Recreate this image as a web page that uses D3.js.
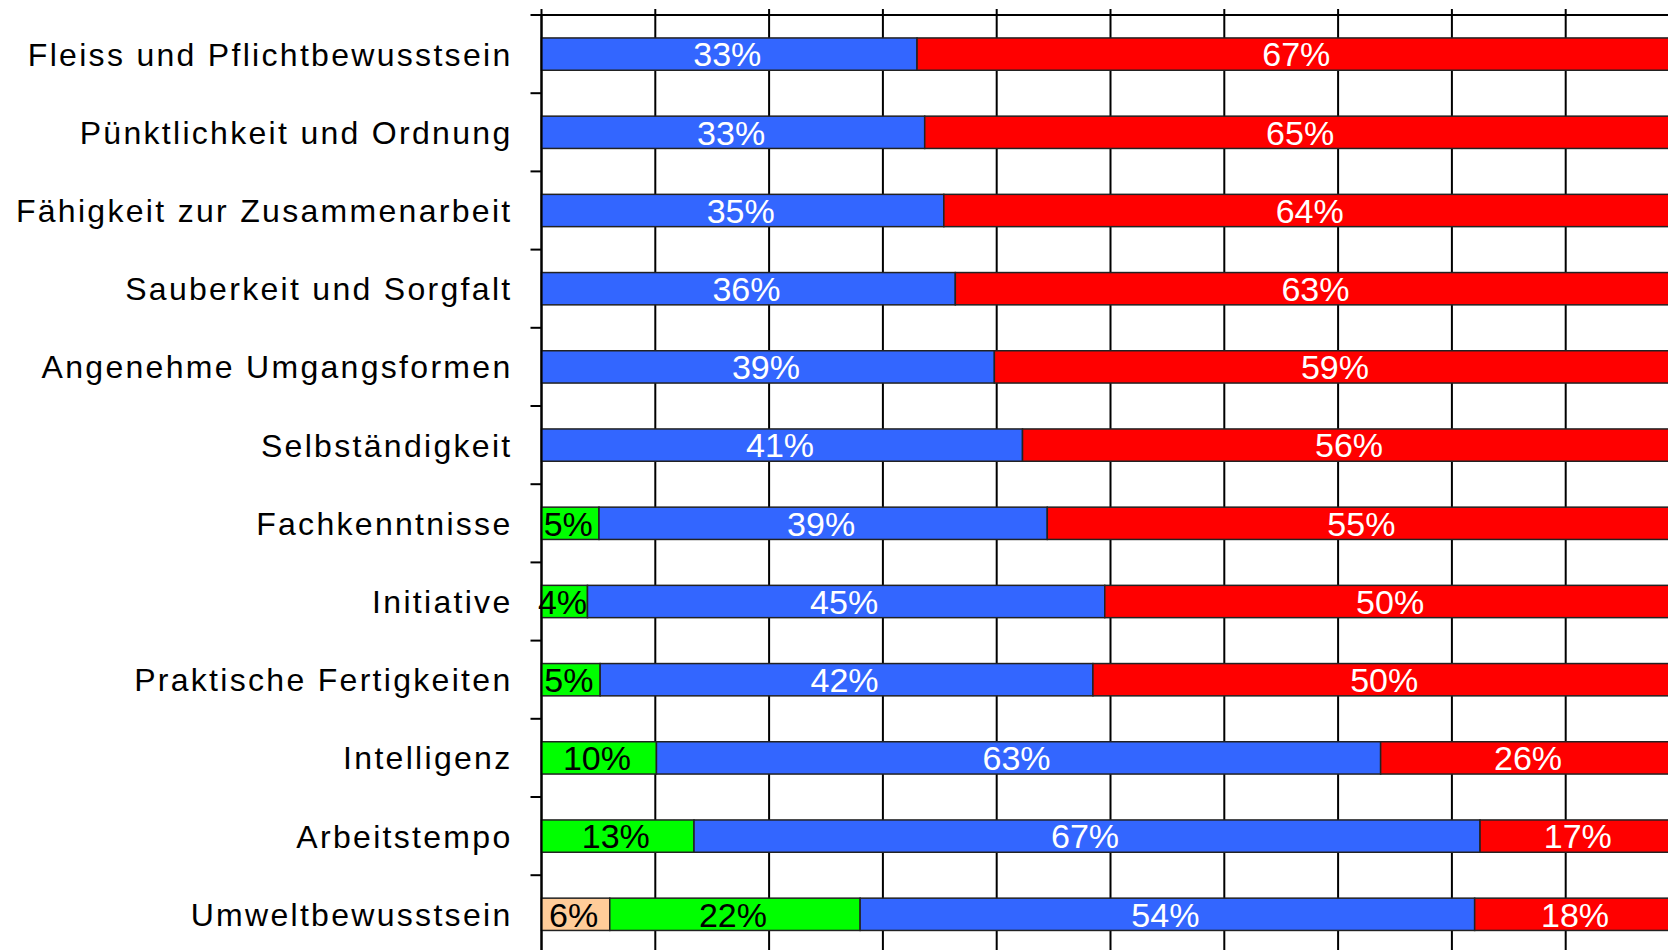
<!DOCTYPE html>
<html>
<head>
<meta charset="utf-8">
<script src="https://cdn.jsdelivr.net/npm/d3@7"></script>
<style>
  body { margin: 0; background: #fff; }
  svg { display: block; }
  .cat { font-family: "Liberation Sans", Arial, sans-serif; font-size: 32px; fill: #000; letter-spacing: 2.3px; }
  .val { font-family: "Liberation Sans", Arial, sans-serif; font-size: 34px; }
</style>
</head>
<body>
<div id="chart"></div>
<script>
var categories = ["Fleiss und Pflichtbewusstsein", "Pünktlichkeit und Ordnung", "Fähigkeit zur Zusammenarbeit",
  "Sauberkeit und Sorgfalt", "Angenehme Umgangsformen", "Selbständigkeit", "Fachkenntnisse", "Initiative",
  "Praktische Fertigkeiten", "Intelligenz", "Arbeitstempo", "Umweltbewusstsein"];

var seriesKeys = ["s1", "s2", "s3", "s4"];
var s1 = [0, 0, 0, 0, 0, 0, 0, 0, 0, 0, 0, 6];
var s2 = [0, 0, 0, 0, 0, 0, 5, 4, 5, 10, 13, 22];
var s3 = [33, 33, 35, 36, 39, 41, 39, 45, 42, 63, 67, 54];
var s4 = [67, 65, 64, 63, 59, 56, 55, 50, 50, 26, 17, 18];

var gridTicks = [0, 0.1, 0.2, 0.3, 0.4, 0.5, 0.6, 0.7, 0.8, 0.9, 1];

var fills = {s1: "#FFCC99", s2: "#00FF00", s3: "#3366FF", s4: "#FF0000"};
var textFills = {s1: "#000", s2: "#000", s3: "#fff", s4: "#fff"};

var width = 1668, height = 950;
var margin = {top: 15, left: 541.5};

var rows = categories.map(function(c, i) {
  return {cat: c, s1: s1[i], s2: s2[i], s3: s3[i], s4: s4[i]};
});

// every row is scaled to 100%
var stack = d3.stack().keys(seriesKeys).offset(d3.stackOffsetExpand);
var layers = stack(rows);

var x = d3.scaleLinear().domain([0, 1]).range([margin.left, margin.left + 1138]);
var y = d3.scaleBand().domain(categories).range([margin.top, margin.top + 78.2 * categories.length])
    .paddingInner(0.587).paddingOuter(0.587 / 2);

var svg = d3.select("#chart").append("svg")
    .attr("width", width)
    .attr("height", height);

// vertical gridlines
svg.append("g")
  .selectAll("line")
  .data(gridTicks)
  .enter().append("line")
    .attr("x1", function(d) { return x(d); })
    .attr("x2", function(d) { return x(d); })
    .attr("y1", margin.top - 6)
    .attr("y2", height)
    .style("stroke", "#000")
    .style("stroke-width", 2);

// top axis line
svg.append("line")
    .attr("x1", margin.left - 11).attr("x2", width)
    .attr("y1", margin.top).attr("y2", margin.top)
    .style("stroke", "#000").style("stroke-width", 2);

// left ticks between categories
var bounds = d3.range(1, categories.length).map(function(i) { return margin.top + y.step() * i; });
svg.append("g")
  .selectAll("line")
  .data(bounds)
  .enter().append("line")
    .attr("x1", margin.left - 11).attr("x2", margin.left)
    .attr("y1", function(d) { return d; })
    .attr("y2", function(d) { return d; })
    .style("stroke", "#000").style("stroke-width", 2);

// bars
var layer = svg.append("g")
  .selectAll("g")
  .data(layers)
  .enter().append("g")
    .style("fill", function(d) { return fills[d.key]; });

layer.selectAll("rect")
  .data(function(d) { return d.filter(function(p) { return p[1] - p[0] > 0; }); })
  .enter().append("rect")
    .attr("x", function(d) { return x(d[0]); })
    .attr("width", function(d) { return x(d[1]) - x(d[0]); })
    .attr("y", function(d) { return y(d.data.cat); })
    .attr("height", y.bandwidth())
    .style("stroke", "#222")
    .style("stroke-width", 1.5);

// value labels
layers.forEach(function(l) {
  svg.append("g")
    .selectAll("text")
    .data(l.filter(function(p) { return p.data[l.key] > 0; }))
    .enter().append("text")
      .attr("class", "val")
      .attr("x", function(d) { return (x(d[0]) + x(d[1])) / 2 - 2; })
      .attr("y", function(d) { return y(d.data.cat) + y.bandwidth() / 2; })
      .attr("dy", "0.36em")
      .attr("text-anchor", "middle")
      .style("fill", textFills[l.key])
      .text(function(d) { return d.data[l.key] + "%"; });
});

// left axis line
svg.append("line")
    .attr("x1", margin.left).attr("x2", margin.left)
    .attr("y1", margin.top).attr("y2", height)
    .style("stroke", "#000").style("stroke-width", 2);

// category labels
svg.append("g")
  .selectAll("text")
  .data(categories)
  .enter().append("text")
    .attr("class", "cat")
    .attr("x", margin.left - 29)
    .attr("y", function(d) { return y(d) + y.bandwidth() / 2; })
    .attr("dy", "0.36em")
    .attr("text-anchor", "end")
    .text(function(d) { return d; });
</script>
</body>
</html>
